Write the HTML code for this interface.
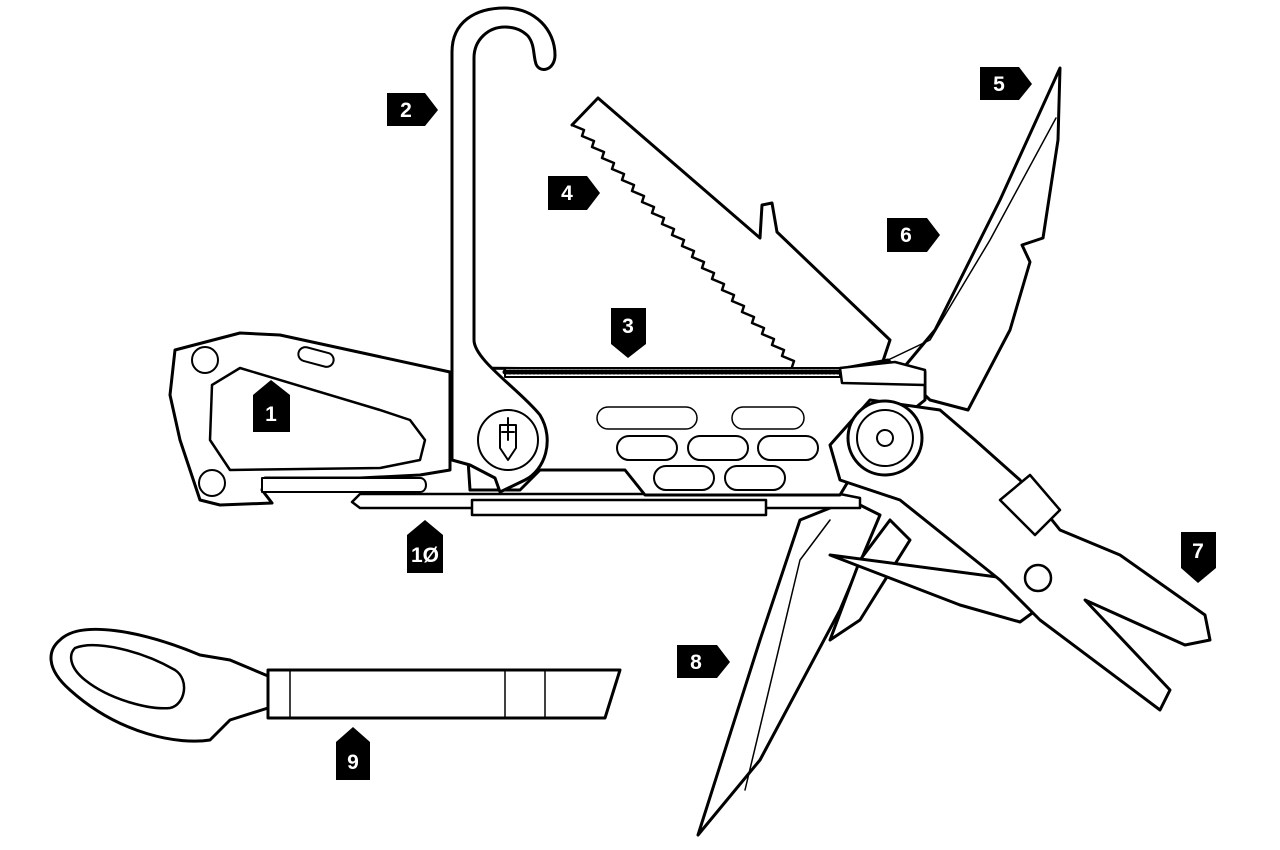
<!DOCTYPE html>
<html><head><meta charset="utf-8"><style>
html,body{margin:0;padding:0;background:#fff;width:1280px;height:850px;overflow:hidden}
svg{display:block}
text{font-family:"Liberation Sans",sans-serif;font-weight:bold;fill:#fff;font-size:21px;text-anchor:middle}
</style></head><body>
<svg width="1280" height="850" viewBox="0 0 1280 850" xmlns="http://www.w3.org/2000/svg">
<g fill="#fff" stroke="#000" stroke-width="3" stroke-linejoin="round" stroke-linecap="round">
<!-- saw -->
<path d="M572 125 L598 98 L760 238 L762 205 L772 203 L777 232 L890 340 L880 370 L792 372 Z" stroke="none"/>
<path d="M572 125 L598 98 L760 238 L762 205 L772 203 L777 232 L890 340 L880 370" fill="none"/>
<path d="M572 125 l12 5 l-2 6 l12 5 l-2 6 l12 5 l-2 6 l12 5 l-2 6 l12 5 l-2 6 l12 5 l-2 6 l12 5 l-2 6 l12 5 l-2 6 l12 5 l-2 6 l12 5 l-2 6 l12 5 l-2 6 l12 5 l-2 6 l12 5 l-2 6 l12 5 l-2 6 l12 5 l-2 6 l12 5 l-2 6 l12 5 l-2 6 l12 5 l-2 6 l12 5 l-2 6 l12 5 l-2 6 l12 5 l-2 6 l12 5 l-2 6" fill="none" stroke-width="2.5"/>
<!-- blade 5 -->
<path d="M1060 68 L1058 140 L1043 238 L1022 245 L1030 262 L1010 330 L968 410 L930 400 L888 360 L845 368 L845 380 L900 372 L935 330 L1000 200 Z"/>
<path d="M1056 118 L990 240 L930 340 L888 360" fill="none" stroke-width="1.5"/>
<!-- knife 8 -->
<path d="M698 835 L760 640 L800 520 L850 500 L880 515 L840 610 L760 760 Z"/>
<path d="M745 790 L800 560 L830 520" fill="none" stroke-width="1.5"/>
<path d="M830 640 L860 560 L890 520 L910 540 L860 620 Z"/>
<!-- scissors -->
<path d="M830 555 L1020 580 L1050 600 L1020 622 L960 605 Z"/>
<!-- carabiner -->
<path d="M175 350 L240 333 L280 335 L450 372 L450 470 L420 475 L360 478 L265 478 L262 490 L272 503 L220 505 L200 500 L180 440 L170 395 Z"/>
<path d="M212 385 L240 368 L380 410 L410 420 L425 440 L420 460 L380 468 L230 470 L210 440 Z" stroke-width="2.5"/>
<path d="M262 478 L420 478 C428 478 428 492 420 492 L262 492 Z" stroke-width="2"/>
<circle cx="205" cy="360" r="13" stroke-width="2"/>
<circle cx="212" cy="483" r="13" stroke-width="2"/>
<rect x="298" y="350" width="36" height="14" rx="7" transform="rotate(15 316 357)" stroke-width="2"/>
<!-- item 10 -->
<path d="M352 502 L360 494 L840 494 L860 498 L860 508 L360 508 Z" stroke-width="2.5"/>
<rect x="472" y="500" width="294" height="15" stroke-width="2.5"/>
<!-- main body -->
<path d="M462 368 L925 372 L925 400 L900 420 L855 470 L840 495 L645 495 L625 470 L540 470 L520 490 L470 490 Z"/>
<rect x="505" y="368" width="335" height="9" fill="#fff" stroke-width="2"/>
<path d="M505 372 L840 372" stroke-dasharray="2 2" stroke-width="5"/>
<rect x="597" y="407" width="100" height="22" rx="11" stroke-width="1.5"/>
<rect x="732" y="407" width="72" height="22" rx="11" stroke-width="1.5"/>
<g stroke-width="2">
<rect x="617" y="436" width="60" height="24" rx="12"/><rect x="688" y="436" width="60" height="24" rx="12"/><rect x="758" y="436" width="60" height="24" rx="12"/>
<rect x="654" y="466" width="60" height="24" rx="12"/><rect x="725" y="466" width="60" height="24" rx="12"/>
</g>
<path d="M840 368 L895 362 L925 370 L925 385 L842 383 Z" stroke-width="2.5"/>
<!-- pliers -->
<path d="M830 445 L870 400 L940 410 L975 440 L1020 480 L1060 530 L1120 555 L1205 615 L1210 640 L1185 645 L1085 600 L1170 690 L1160 710 L1040 620 L1000 580 L900 500 L840 480 Z"/>
<path d="M1000 500 L1030 475 L1060 510 L1035 535 Z" stroke-width="2.5"/>
<circle cx="1038" cy="578" r="13" stroke-width="2.5"/>
<circle cx="885" cy="438" r="37"/>
<circle cx="885" cy="438" r="28" stroke-width="2"/>
<circle cx="885" cy="438" r="8" stroke-width="2"/>
<!-- hook -->
<path d="M452 460 L452 52 C452 22 475 8 505 8 C535 8 555 30 555 55 C555 70 540 74 536 64 C533 55 535 45 528 36 C522 30 514 27 505 27 C488 27 474 40 474 58 L474 340 C474 360 520 390 540 415 C555 440 545 470 525 480 L500 492 L495 478 L470 465 Z"/>
<circle cx="508" cy="440" r="30" stroke-width="2"/>
<path d="M500 425 L516 425 L516 448 L508 460 L500 448 Z M508 418 L508 440 M502 432 L514 432" fill="none" stroke-width="2"/>
<!-- item 9 -->
<path d="M60 640 C80 620 140 630 200 655 L230 660 L268 676 L268 708 L230 720 L210 740 C180 745 120 735 70 690 C45 668 48 650 60 640 Z"/>
<path d="M75 648 C95 640 140 650 175 670 C190 680 185 705 170 708 C150 710 110 700 85 680 C70 668 68 655 75 648 Z" stroke-width="2.5"/>
<path d="M268 670 L620 670 L605 718 L268 718 Z"/>
<path d="M290 670 V718 M505 670 V718 M545 670 V718" stroke-width="1.5"/>
</g>
<!-- labels -->
<g fill="#000">
<polygon points="253,395 271,380 290,395 290,432 253,432"/>
<polygon points="387,93 425,93 438,110 425,126 387,126"/>
<polygon points="611,308 646,308 646,344 628,358 611,344"/>
<polygon points="548,176 587,176 600,193 587,210 548,210"/>
<polygon points="980,67 1019,67 1032,84 1019,100 980,100"/>
<polygon points="887,218 927,218 940,235 927,252 887,252"/>
<polygon points="1181,532 1216,532 1216,568 1198,583 1181,568"/>
<polygon points="677,645 717,645 730,662 717,678 677,678"/>
<polygon points="336,742 353,727 370,742 370,780 336,780"/>
<polygon points="407,535 425,520 443,535 443,573 407,573"/>
</g>
<text x="271" y="421">1</text>
<text x="406" y="117">2</text>
<text x="628" y="333">3</text>
<text x="567" y="200">4</text>
<text x="999" y="91">5</text>
<text x="906" y="242">6</text>
<text x="1198" y="558">7</text>
<text x="696" y="669">8</text>
<text x="353" y="769">9</text>
<text x="425" y="562">1Ø</text>
</svg>
</body></html>
